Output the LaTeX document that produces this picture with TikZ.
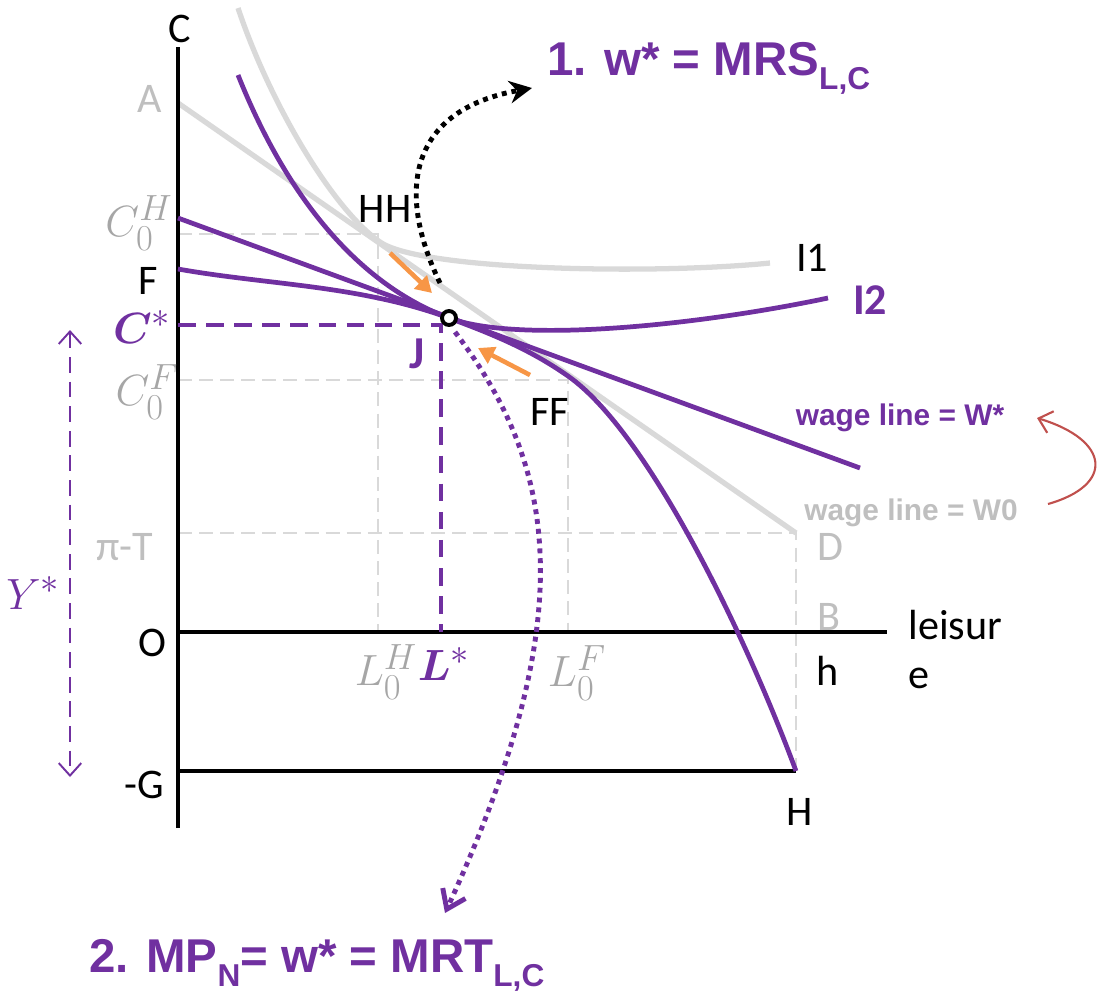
\documentclass[tikz,border=0pt]{standalone}
\usepackage{amsmath,bm}
\usepackage{fontspec}
\setmainfont{Carlito}
\newfontfamily\arialfont{Liberation Sans}
\usetikzlibrary{arrows.meta}
\definecolor{econpurple}{RGB}{112,48,160}
\definecolor{oldgray}{RGB}{217,217,217}
\definecolor{labelgray}{RGB}{166,166,166}
\definecolor{lightlabel}{RGB}{191,191,191}
\definecolor{nudgeorange}{RGB}{247,150,70}
\definecolor{shiftred}{RGB}{192,80,77}
\newcommand{\lowidx}[1]{\raisebox{-0.3em}{\fontsize{18}{18}\selectfont #1}}

\begin{document}
\begin{tikzpicture}[
    x=0.02cm, y=-0.02cm,
    font=\fontsize{24}{28}\selectfont,
    axisline/.style={line width=2.8pt},
    guide/.style={oldgray, line width=1.1pt, dash pattern=on 8pt off 4pt},
    oldline/.style={oldgray, line width=3pt},
    newline/.style={econpurple, line width=2.7pt},
    stardash/.style={econpurple, line width=2.1pt, dash pattern=on 10pt off 6pt},
    nudge/.style={nudgeorange, line width=2.6pt, -{Triangle[length=3.2mm,width=3.6mm]}},
    dotarrow/.style={line width=2.8pt, dash pattern=on 2.8pt off 2.8pt},
    greylabel/.style={labelgray},
    mathlabel/.style={font=\fontsize{28}{32}\selectfont},
    boldnote/.style={font=\arialfont\bfseries\fontsize{17}{20}\selectfont},
    bignote/.style={econpurple, font=\arialfont\bfseries\fontsize{27}{32}\selectfont}
  ]
    \useasboundingbox (0,0) rectangle (1106,992);

    % points of the diagram
    \coordinate (origin) at (178,632);
    \coordinate (ctop) at (178,47);
    \coordinate (cbot) at (178,828);
    \coordinate (lend) at (887,632);
    \coordinate (gleft) at (178,771);
    \coordinate (hpt) at (796,771);
    \coordinate (apt) at (178,103);
    \coordinate (dpt) at (796,533);
    \coordinate (hh) at (378,234);
    \coordinate (ff) at (568,380);
    \coordinate (fpt) at (178,269);
    \coordinate (J) at (449,318);
    \coordinate (cstar) at (441,325);
    \coordinate (wleft) at (178,218);
    \coordinate (wright) at (860,468);

    % guides
    \draw[guide] (origin |- hh) -| (hh |- origin);
    \draw[guide] (origin |- ff) -| (ff |- origin);
    \draw[guide] (origin |- dpt) -- (dpt) -- (hpt);

    % old wage line and I1
    \draw[oldline] (apt) -- (dpt);
    \draw[oldline] (238,8) .. controls (268,98) and (330,207) .. (380,242)
      .. controls (420,270) and (650,275) .. (770,263);

    % axes
    \draw[axisline] (cbot) -- (ctop);
    \draw[axisline] (origin) -- (lend);
    \draw[line width=1.9pt] (gleft) -- (hpt);

    % new equilibrium
    \draw[stardash] (origin |- cstar) -| (cstar |- origin);
    \draw[newline] (wleft) -- (wright);
    \draw[newline] (fpt) .. controls (268,285) and (359,285) .. (J)
      .. controls (489,333) and (528,348) .. (568,376)
      .. controls (648,432) and (746,636) .. (hpt);
    \draw[newline] (238,75) .. controls (298,225) and (379,292) .. (J)
      .. controls (519,344) and (700,325) .. (828,298);
    \node[circle, draw, line width=2.2pt, fill=white, inner sep=0pt,
          minimum size=0.28cm] (jdot) at (J) {};

    % adjustment arrows
    \coordinate (hhfrom) at (390,253);
    \coordinate (hhto) at (432,293);
    \coordinate (fffrom) at (530,375);
    \coordinate (ffto) at (478,348);
    \draw[nudge] (hhfrom) -- (hhto);
    \draw[nudge] (fffrom) -- (ffto);

    % notes
    \node[bignote, anchor=west] (topnote) at (541,68) {1. w* = MRS\lowidx{L,C}};
    \node[bignote, anchor=west] (botnote) at (83,965) {2. MP\lowidx{N}= w* = MRT\lowidx{L,C}};
    \coordinate (topstart) at (440,283);
    \coordinate (toptip) at (532,88);
    \coordinate (botstart) at (455,332);
    \coordinate (bottip) at (445,913);
    \draw[dotarrow, -{Stealth[length=4.5mm,width=4.5mm]}]
      (topstart) .. controls (395,190) and (410,110) .. (toptip);
    \draw[dotarrow, econpurple, -{Straight Barb[length=3.5mm,width=5mm]}]
      (botstart) .. controls (560,470) and (580,620) .. (bottip);

    % wage line labels
    \node[boldnote, econpurple] (wstarlbl) at (900,418) {wage line = W*};
    \node[boldnote, lightlabel] (wzerolbl) at (911,513) {wage line = W0};
    \coordinate (redfrom) at (1048,504);
    \coordinate (redto) at (1037,418);
    \draw[shiftred, line width=1.2pt, -{Straight Barb[length=2.5mm,width=4.5mm]}]
      (redfrom) .. controls (1115,485) and (1110,440) .. (redto);

    % Y* span
    \coordinate (ytop) at (70,330);
    \coordinate (ybot) at (70,777);
    \draw[econpurple, line width=1.1pt, dash pattern=on 9pt off 5pt,
          {Straight Barb[length=2.5mm,width=4.5mm]}-{Straight Barb[length=2.5mm,width=4.5mm]}]
      (ytop) -- (ybot);

    % axis labels
    \node (clbl) at (180,29) {C};
    \node[lightlabel] (albl) at (150,99) {A};
    \node[greylabel, mathlabel] (c0hlbl) at (139,223) {$C_0^H$};
    \node (flbl) at (148,281) {F};
    \node[econpurple, mathlabel] (cstarlbl) at (142,327) {$\bm{C}^{*}$};
    \node[greylabel, mathlabel] (c0flbl) at (147,392) {$C_0^F$};
    \node[lightlabel] (pilbl) at (125,547) {π-T};
    \node[econpurple, mathlabel] (ystarlbl) at (33,593) {$Y^{*}$};
    \node (olbl) at (152,643) {O};
    \node (glbl) at (144,785) {-G};
    \node[greylabel, mathlabel, inner sep=0pt] (l0hlbl) at (386,672) {$L_0^H$};
    \node[econpurple, mathlabel, inner sep=0pt] (lstarlbl) at (444,664) {$\bm{L}^{*}$};
    \node[greylabel, mathlabel, inner sep=0pt] (l0flbl) at (577,673) {$L_0^F$};
    \node[lightlabel] (dlbl) at (830,547) {D};
    \node[lightlabel] (blbl) at (829,617) {B};
    \node (smallh) at (828,671) {h};
    \node (bigh) at (800,812) {H};
    \node[anchor=north west, align=left, inner sep=0pt] (leisurelbl) at (908,610) {leisur\\e};

    % point labels
    \node (hhlbl) at (385,209) {HH};
    \node[econpurple, font=\fontsize{26}{28}\selectfont\bfseries] (jlbl) at (417,354) {J};
    \node (fflbl) at (550,412) {FF};
    \node (ionelbl) at (812,258) {I1};
    \node[econpurple, font=\fontsize{25}{28}\selectfont\bfseries] (itwolbl) at (870,300) {I2};
\end{tikzpicture}
\end{document}
